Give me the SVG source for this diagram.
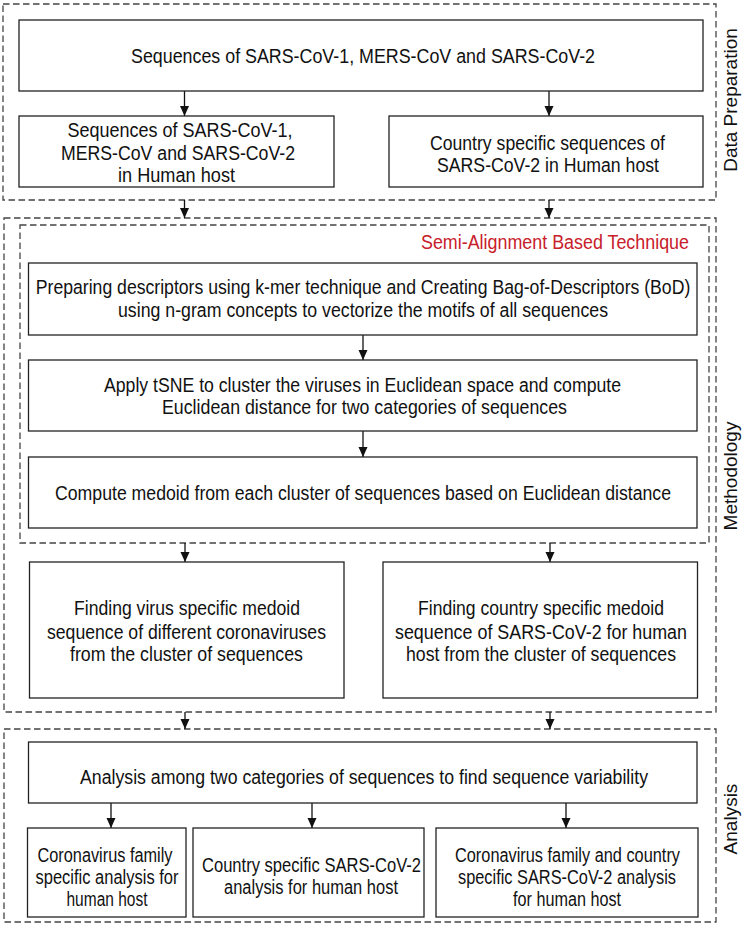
<svg xmlns="http://www.w3.org/2000/svg" width="744" height="925" viewBox="0 0 744 925">
<defs>
<marker id="ah" markerUnits="userSpaceOnUse" markerWidth="10" markerHeight="10" refX="10" refY="5" orient="auto">
<path d="M0,0.5 L10,5 L0,9.5 z" fill="#111"/>
</marker>
<style>
.box{fill:#fff;stroke:#222;stroke-width:1.3}
.grp{fill:none;stroke:#444;stroke-width:1.3;stroke-dasharray:6.5,3.5}
.t{font-family:"Liberation Sans Narrow","Liberation Sans",Arial,sans-serif;font-size:19.5px;fill:#111;text-anchor:middle}
.side{font-family:"Liberation Sans",Arial,sans-serif;font-size:19px;fill:#111;text-anchor:middle}
.red{font-family:"Liberation Sans Narrow","Liberation Sans",Arial,sans-serif;font-size:19.5px;fill:#c8202a;text-anchor:end}
.c{stroke:#111;stroke-width:1.3;fill:none;marker-end:url(#ah)}
</style>
</defs>
<rect width="744" height="925" fill="#fff"/>

<g id="groups">
<rect class="grp" x="3" y="4" width="713" height="196"/>
<rect class="grp" x="4" y="218" width="712" height="494"/>
<rect class="grp" x="20" y="225" width="689" height="318"/>
<rect class="grp" x="4" y="729" width="712" height="193"/>
<text class="side" transform="translate(737,100) rotate(-90)">Data Preparation</text>
<text class="side" transform="translate(737,476) rotate(-90)">Methodology</text>
<text class="side" transform="translate(737,819) rotate(-90)">Analysis</text>
<text class="red" x="689" y="249" textLength="268" lengthAdjust="spacingAndGlyphs">Semi-Alignment Based Technique</text>
</g>

<g id="connectors">
<line class="c" x1="184.5" y1="91" x2="184.5" y2="116"/>
<line class="c" x1="549" y1="91" x2="549" y2="116"/>
<line class="c" x1="184.5" y1="200" x2="184.5" y2="218"/>
<line class="c" x1="549" y1="200" x2="549" y2="218"/>
<line class="c" x1="363" y1="335" x2="363" y2="360"/>
<line class="c" x1="363" y1="431" x2="363" y2="457"/>
<line class="c" x1="185" y1="543" x2="185" y2="562"/>
<line class="c" x1="550" y1="543" x2="550" y2="562"/>
<line class="c" x1="185" y1="712" x2="185" y2="729"/>
<line class="c" x1="550" y1="712" x2="550" y2="729"/>
<line class="c" x1="111" y1="803" x2="111" y2="828"/>
<line class="c" x1="312" y1="803" x2="312" y2="828"/>
<line class="c" x1="566" y1="803" x2="566" y2="828"/>
</g>

<g id="n-seq-all">
<rect class="box" x="19" y="20" width="684" height="71"/>
<text class="t" x="363" y="62.5" textLength="464" lengthAdjust="spacingAndGlyphs">Sequences of SARS-CoV-1, MERS-CoV and SARS-CoV-2</text>
</g>
<g id="n-seq-human">
<rect class="box" x="19" y="116" width="315" height="71"/>
<text class="t" x="180" y="137" textLength="225" lengthAdjust="spacingAndGlyphs">Sequences of SARS-CoV-1,</text>
<text class="t" x="178" y="159.5" textLength="234" lengthAdjust="spacingAndGlyphs">MERS-CoV and SARS-CoV-2</text>
<text class="t" x="176.5" y="182" textLength="117" lengthAdjust="spacingAndGlyphs">in Human host</text>
</g>
<g id="n-seq-country">
<rect class="box" x="389" y="116" width="314" height="71"/>
<text class="t" x="547.5" y="149.5" textLength="235" lengthAdjust="spacingAndGlyphs">Country specific sequences of</text>
<text class="t" x="548" y="172" textLength="222" lengthAdjust="spacingAndGlyphs">SARS-CoV-2 in Human host</text>
</g>

<g id="n-descriptors">
<rect class="box" x="28.5" y="263" width="668.5" height="72"/>
<text class="t" transform="translate(363,294) scale(0.85,1)" x="0" y="0" textLength="770" lengthAdjust="spacingAndGlyphs">Preparing descriptors using k-mer technique and Creating Bag-of-Descriptors (BoD)</text>
<text class="t" x="363" y="317" textLength="490" lengthAdjust="spacingAndGlyphs">using n-gram concepts to vectorize the motifs of all sequences</text>
</g>
<g id="n-tsne">
<rect class="box" x="28.5" y="360" width="668.5" height="71"/>
<text class="t" x="362.5" y="392" textLength="517" lengthAdjust="spacingAndGlyphs">Apply tSNE to cluster the viruses in Euclidean space and compute</text>
<text class="t" x="364.5" y="414" textLength="405" lengthAdjust="spacingAndGlyphs">Euclidean distance for two categories of sequences</text>
</g>
<g id="n-medoid">
<rect class="box" x="28.5" y="457" width="668.5" height="71"/>
<text class="t" x="363" y="500" textLength="616" lengthAdjust="spacingAndGlyphs">Compute medoid from each cluster of sequences based on Euclidean distance</text>
</g>

<g id="n-virus-medoid">
<rect class="box" x="29.5" y="562" width="314.5" height="136"/>
<text class="t" x="187" y="615" textLength="226" lengthAdjust="spacingAndGlyphs">Finding virus specific medoid</text>
<text class="t" x="186.5" y="638.5" textLength="279" lengthAdjust="spacingAndGlyphs">sequence of different coronaviruses</text>
<text class="t" x="186.5" y="661" textLength="233" lengthAdjust="spacingAndGlyphs">from the cluster of sequences</text>
</g>
<g id="n-country-medoid">
<rect class="box" x="383" y="562" width="314.5" height="136"/>
<text class="t" x="541" y="615" textLength="246" lengthAdjust="spacingAndGlyphs">Finding country specific medoid</text>
<text class="t" x="541" y="638.5" textLength="292" lengthAdjust="spacingAndGlyphs">sequence of SARS-CoV-2 for human</text>
<text class="t" x="541" y="661" textLength="270" lengthAdjust="spacingAndGlyphs">host from the cluster of sequences</text>
</g>

<g id="n-analysis">
<rect class="box" x="28.5" y="742" width="668.5" height="61"/>
<text class="t" x="364" y="784" textLength="568" lengthAdjust="spacingAndGlyphs">Analysis among two categories of sequences to find sequence variability</text>
</g>
<g id="n-family">
<rect class="box" x="27.5" y="828" width="158.5" height="89"/>
<text class="t" x="105" y="862" textLength="135" lengthAdjust="spacingAndGlyphs">Coronavirus family</text>
<text class="t" x="107" y="884" textLength="143" lengthAdjust="spacingAndGlyphs">specific analysis for</text>
<text class="t" x="107" y="905.5" textLength="81" lengthAdjust="spacingAndGlyphs">human host</text>
</g>
<g id="n-country">
<rect class="box" x="193" y="828" width="231" height="89"/>
<text class="t" x="311.5" y="872" textLength="219" lengthAdjust="spacingAndGlyphs">Country specific SARS-CoV-2</text>
<text class="t" x="311" y="894" textLength="174" lengthAdjust="spacingAndGlyphs">analysis for human host</text>
</g>
<g id="n-both">
<rect class="box" x="436" y="828" width="262" height="89"/>
<text class="t" x="567.5" y="862" textLength="225" lengthAdjust="spacingAndGlyphs">Coronavirus family and country</text>
<text class="t" x="567" y="884" textLength="218" lengthAdjust="spacingAndGlyphs">specific SARS-CoV-2 analysis</text>
<text class="t" x="567" y="905.5" textLength="108" lengthAdjust="spacingAndGlyphs">for human host</text>
</g>
</svg>
